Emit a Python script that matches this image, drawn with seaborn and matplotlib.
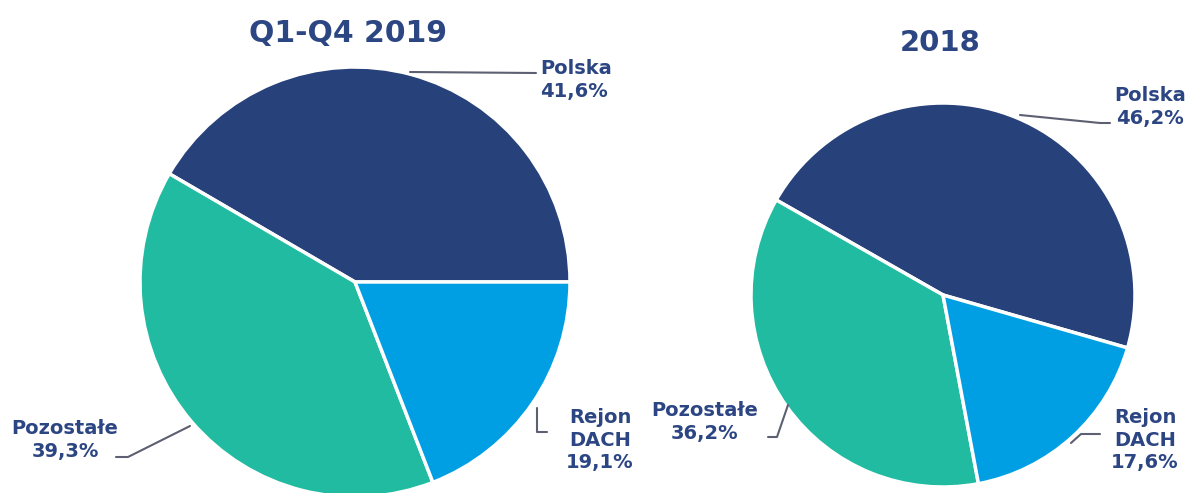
import matplotlib
matplotlib.use('Agg')
import matplotlib.pyplot as plt
from matplotlib.lines import Line2D
import seaborn as sns

# data
regions = ["Polska", "Pozostałe", "Rejon\nDACH"]
share_2019 = [41.6, 39.3, 19.1]
share_2018 = [46.2, 36.2, 17.6]
titles = ["Q1-Q4 2019", "2018"]
colors = ["#27417a", "#20bba0", "#009fe3"]

sns.set_theme(style="white")
plt.rcParams['font.family'] = ['DejaVu Sans']

W, H = 1189, 493
fig = plt.figure(figsize=(W / 100, H / 100), dpi=100)
txt_col = "#2c4583"
line_col = "#5c6070"


def px(x, y):
    return x / W, 1 - y / H


def pie_axes(cx, cy, r):
    return fig.add_axes([(cx - r) / W, (H - cy - r) / H, 2 * r / W, 2 * r / H])


def finish(ax):
    ax.set_xlim(-1, 1)
    ax.set_ylim(-1, 1)
    ax.set_aspect('auto')
    ax.axis('off')


def fmt(v):
    return "{:.1f}%".format(v).replace(".", ",")


# left pie
ax1 = pie_axes(355, 282, 215)
ax1.pie(share_2019, colors=colors, startangle=0, counterclock=True, radius=1,
        wedgeprops=dict(edgecolor="white", linewidth=2.5))
finish(ax1)
# right pie
ax2 = pie_axes(943, 295, 192)
ax2.pie(share_2018, colors=colors, startangle=-16, counterclock=True, radius=1,
        wedgeprops=dict(edgecolor="white", linewidth=2.5))
finish(ax2)

fig.text(*px(348, 33), titles[0], ha="center", va="center", fontsize=21.5,
         fontweight="bold", color=txt_col)
fig.text(*px(940, 43), titles[1], ha="center", va="center", fontsize=21,
         fontweight="bold", color=txt_col)

lab_kw = dict(fontsize=14, fontweight="bold", color=txt_col, va="center",
              linespacing=1.25)

# labels 2019
fig.text(*px(540, 80), regions[0] + "\n" + fmt(share_2019[0]), ha="left", **lab_kw)
fig.text(*px(65, 440), regions[1] + "\n" + fmt(share_2019[1]), ha="center", **lab_kw)
fig.text(*px(600, 440), regions[2] + "\n" + fmt(share_2019[2]), ha="center", **lab_kw)
# labels 2018
fig.text(*px(1150, 107), regions[0] + "\n" + fmt(share_2018[0]), ha="center", **lab_kw)
fig.text(*px(705, 422), regions[1] + "\n" + fmt(share_2018[1]), ha="center", **lab_kw)
fig.text(*px(1145, 440), regions[2] + "\n" + fmt(share_2018[2]), ha="center", **lab_kw)

# leader lines
leaders = [
    [(410, 72), (536, 73)],
    [(116, 457), (128, 457), (190, 426)],
    [(537, 408), (537, 432), (547, 432)],
    [(1020, 115), (1100, 123), (1110, 123)],
    [(768, 437), (777, 437), (788, 405)],
    [(1071, 443), (1081, 434), (1100, 434)],
]
for pts in leaders:
    xs = [p[0] / W for p in pts]
    ys = [1 - p[1] / H for p in pts]
    fig.add_artist(Line2D(xs, ys, color=line_col, lw=1.5))

plt.savefig("out.png", dpi=100)
